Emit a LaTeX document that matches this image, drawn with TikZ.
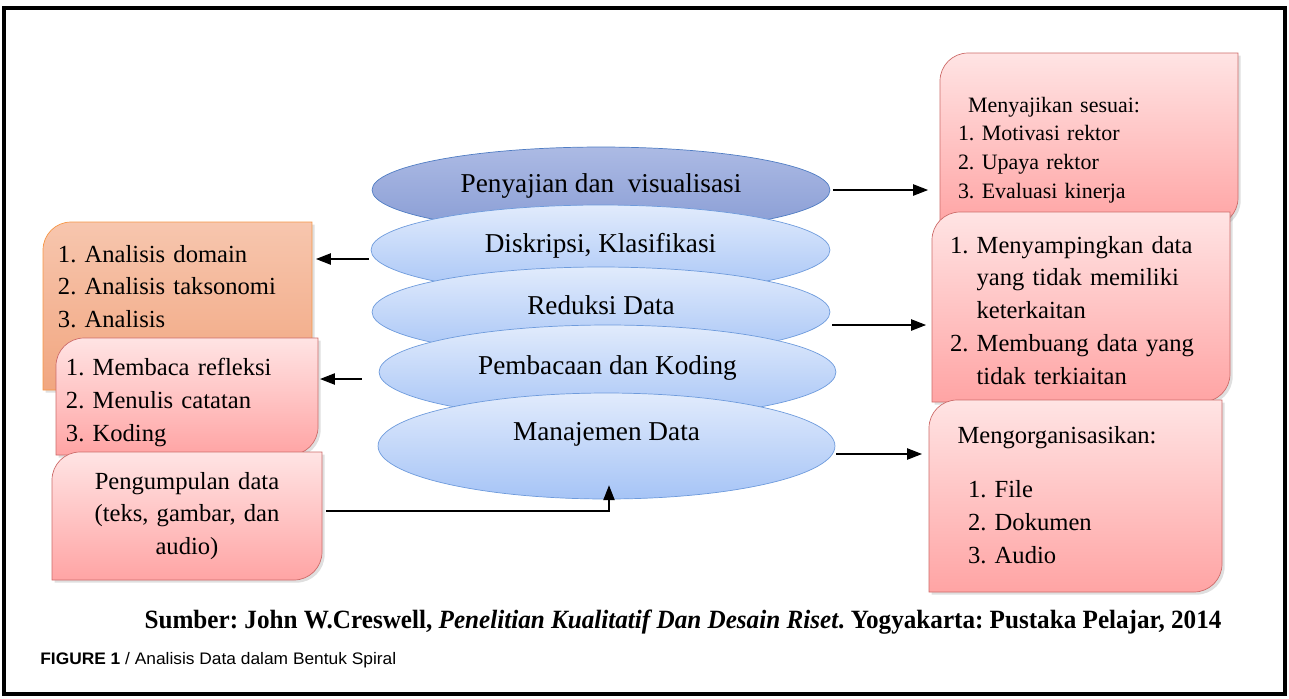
\documentclass[tikz,border=0pt]{standalone}
\usepackage{fontspec}
\setmainfont{Liberation Serif}
\setsansfont{Liberation Sans}
\usetikzlibrary{arrows.meta,positioning,shapes.geometric,shadows}
\frenchspacing

\definecolor{ovaltop}{RGB}{225,235,252}
\definecolor{ovalbot}{RGB}{166,196,246}
\definecolor{ovalline}{RGB}{110,155,220}
\definecolor{darktop}{RGB}{172,186,228}
\definecolor{darkbot}{RGB}{136,156,212}
\definecolor{darkline}{RGB}{80,125,195}
\definecolor{pinktop}{RGB}{255,228,228}
\definecolor{pinkbot}{RGB}{255,164,164}
\definecolor{pinkline}{RGB}{205,108,106}
\definecolor{orangetop}{RGB}{247,198,174}
\definecolor{orangebot}{RGB}{241,166,128}
\definecolor{orangeline}{RGB}{246,150,70}

% box with round top-left and bottom-right corners: style, x1, y1, x2, y2, radius (px)
\newcommand{\cornerbox}[6]{%
  \path[#1] (#2,#5) -- (#2,#3+#6)
    arc[start angle=180,end angle=90,radius=#6*0.569pt] -- (#4,#3)
    -- (#4,#5-#6) arc[start angle=0,end angle=-90,radius=#6*0.569pt] -- cycle;}

\begin{document}
\begin{tikzpicture}[x=0.02cm, y=-0.02cm, >={Triangle[length=8.5pt,width=6.5pt]}]
  \tikzstyle{oval}=[ellipse, draw=ovalline, top color=ovaltop, bottom color=ovalbot, inner sep=0pt, text height=11pt, text depth=8.5pt, font=\fontsize{15.5}{18}\selectfont]
  \tikzstyle{orangebox}=[draw=orangeline, top color=orangetop, bottom color=orangebot, drop shadow={opacity=0.25, shadow xshift=1.5pt, shadow yshift=-1.5pt}]
  \tikzstyle{pinkbox}=[draw=pinkline, top color=pinktop, bottom color=pinkbot, drop shadow={opacity=0.25, shadow xshift=1.5pt, shadow yshift=-1.5pt}]
  \tikzstyle{boxtext}=[anchor=north west, inner ysep=0pt, outer sep=0pt, align=left, font=\fontsize{14}{18.7}\selectfont]
  \tikzstyle{arr}=[->, line width=0.6pt]

  \useasboundingbox (0,0) rectangle (1289,698);
  \draw[line width=2.2pt] (4,8) rectangle (1285,694);

  % spiral
  \node[oval, draw=darkline, top color=darktop, bottom color=darkbot, minimum width=9.16cm, minimum height=1.72cm] (pen) at (601,190) {Penyajian dan\ \ visualisasi};
  \node[oval, minimum width=9.18cm, minimum height=1.8cm] (dis) at (600.5,250) {Diskripsi, Klasifikasi};
  \node[oval, minimum width=9.16cm, minimum height=1.8cm] (red) at (601,312) {Reduksi Data};
  \node[oval, minimum width=9.14cm, minimum height=1.88cm] (pem) at (607.5,372) {Pembacaan dan Koding};
  \node[oval, minimum width=9.14cm, minimum height=2.12cm, text depth=17.6pt] (man) at (606.5,446) {Manajemen Data};

  % left side
  \cornerbox{orangebox}{43}{222}{312}{390}{28}
  \node[boxtext, inner xsep=0.3cm, text width=4.78cm] (dom) at (43,245) {1. Analisis domain\\2. Analisis taksonomi\\3. Analisis};
  \cornerbox{pinkbox}{56}{338}{318}{455}{28}
  \node[boxtext, inner xsep=0.2cm, text width=4.84cm] (refl) at (56,358) {1. Membaca refleksi\\2. Menulis catatan\\3. Koding};
  \cornerbox{pinkbox}{52}{452}{322}{580}{28}
  \node[boxtext, inner xsep=0.2cm, text width=5.0cm, minimum height=2.56cm, align=center] (coll) at (52,452) {Pengumpulan data\\(teks, gambar, dan\\audio)};

  % right side
  \cornerbox{pinkbox}{940}{53}{1238}{226}{28}
  \node[boxtext, inner xsep=0.36cm, text width=5.24cm, font=\fontsize{12.5}{16.3}\selectfont] (pres) at (940,97) {\hspace*{5.7pt}Menyajikan sesuai:\\1. Motivasi rektor\\2. Upaya rektor\\3. Evaluasi kinerja};
  \cornerbox{pinkbox}{932}{212}{1230}{402}{28}
  \node[boxtext, inner xsep=0.36cm, text width=5.24cm] (filt) at (932,236) {1. Menyampingkan data\\\phantom{1. }yang tidak memiliki\\\phantom{1. }keterkaitan\\2. Membuang data yang\\\phantom{2. }tidak terkiaitan};
  \cornerbox{pinkbox}{929}{400}{1222}{592}{28}
  \node[boxtext, inner xsep=0.36cm, text width=5.14cm] (org) at (929,426) {\hspace*{6pt}Mengorganisasikan:\\[12.5pt]\hspace*{12pt}1. File\\\hspace*{12pt}2. Dokumen\\\hspace*{12pt}3. Audio};

  % arrows
  \draw[arr, shorten <=1.5pt, shorten >=6.8pt] (pen.east) -- (pen.east -| pres.west);
  \draw[arr, shorten >=2.3pt] ([shift={(-2,9)}]dis.west) coordinate (a2) -- (a2 -| dom.east);
  \draw[arr, shorten >=3.4pt] ([shift={(2,13)}]red.east) coordinate (a3) -- (a3 -| filt.west);
  \draw[arr, shorten >=1.2pt] ([shift={(-17,7)}]pem.west) coordinate (a4) -- (a4 -| refl.east);
  \draw[arr, shorten >=4pt] ([shift={(1,8)}]man.east) coordinate (a5) -- (a5 -| org.west);
  \draw[arr, shorten >=-8pt] ([shift={(4,-5)}]coll.east) -| ([shift={(2.5,0)}]man.south);

  % source and caption
  \node[font=\fontsize{15}{17}\selectfont\bfseries] (src) at (683,622) {\resizebox{21.54cm}{\height}{Sumber: John W.Creswell, \textit{Penelitian Kualitatif Dan Desain Riset}. Yogyakarta: Pustaka Pelajar, 2014}};
  \node[anchor=west, inner sep=0pt, font=\sffamily\fontsize{9.5}{11}\selectfont] (cap) at (40,660) {\resizebox{7.12cm}{\height}{\textbf{FIGURE 1} / Analisis Data dalam Bentuk Spiral}};
\end{tikzpicture}
\end{document}
